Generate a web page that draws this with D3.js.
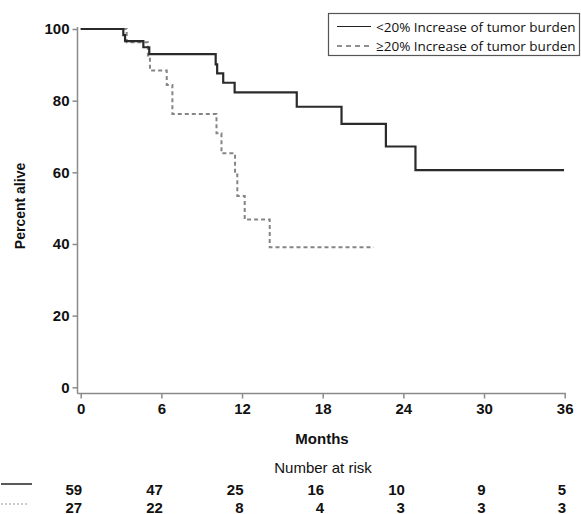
<!DOCTYPE html>
<html>
<head>
<meta charset="utf-8">
<script src="https://cdn.jsdelivr.net/npm/d3@7"></script>
<style>
  body { margin: 0; background: #fff; }
  svg { font-family: "Liberation Sans", Arial, sans-serif; }
</style>
</head>
<body>
<div id="chart"></div>
<script>
// Kaplan-Meier steps
const lowTimes = [0, 3.17, 3.3, 4.66, 5.1, 10.04, 10.15, 10.6, 11.45, 16.07, 19.4, 22.7, 24.9, 35.95];
const lowSurv  = [100, 98.3, 96.6, 94.9, 93.0, 90.1, 87.6, 85.0, 82.3, 78.3, 73.5, 67.2, 60.6, 60.6];
const highTimes = [0, 3.42, 5.0, 5.15, 6.4, 6.82, 10.1, 10.47, 11.48, 11.65, 12.2, 14.06, 21.8];
const highSurv  = [100, 96.3, 92.6, 88.4, 84.4, 76.3, 70.9, 65.3, 59.4, 53.4, 46.8, 39.1, 39.1];

const xTicks = [0, 6, 12, 18, 24, 30, 36];
const yTicks = [0, 20, 40, 60, 80, 100];
const riskLow  = [59, 47, 25, 16, 10, 9, 5];
const riskHigh = [27, 22, 8, 4, 3, 3, 3];
const legendLabels = ["<20% Increase of tumor burden", "\u226520% Increase of tumor burden"];

const W = 581, H = 514;
const svg = d3.select("#chart").append("svg")
    .attr("width", W).attr("height", H);

const x = d3.scaleLinear().domain([0, 36]).range([80.7, 564.7]);
const y = d3.scaleLinear().domain([0, 100]).range([387.3, 29]);

const axisColor = "#8a8a8a";
const axisX0 = 77.5, axisY0 = 393.5;

// Y axis
const yAxis = svg.append("g")
    .attr("transform", `translate(${axisX0},0)`)
    .call(d3.axisLeft(y).tickValues(yTicks).tickSize(5).tickPadding(3));
yAxis.select(".domain").remove();
yAxis.selectAll("line").attr("stroke", axisColor).attr("stroke-width", 1.5);
yAxis.selectAll("text")
    .style("font-family", "Liberation Sans, Arial, sans-serif")
    .style("font-size", "15px").style("font-weight", "bold").attr("fill", "#111");
svg.append("line")
    .attr("x1", axisX0).attr("x2", axisX0).attr("y1", 27).attr("y2", axisY0)
    .attr("stroke", axisColor).attr("stroke-width", 1.5);

// X axis
const xAxis = svg.append("g")
    .attr("transform", `translate(0,${axisY0})`)
    .call(d3.axisBottom(x).tickValues(xTicks).tickSize(5).tickPadding(5));
xAxis.select(".domain").remove();
xAxis.selectAll("line").attr("stroke", axisColor).attr("stroke-width", 1.5);
xAxis.selectAll("text")
    .style("font-family", "Liberation Sans, Arial, sans-serif")
    .style("font-size", "15px").style("font-weight", "bold").attr("fill", "#111");
svg.append("line")
    .attr("x1", axisX0).attr("x2", 566).attr("y1", axisY0).attr("y2", axisY0)
    .attr("stroke", axisColor).attr("stroke-width", 1.5);

// Axis titles
svg.append("text")
    .attr("x", 322).attr("y", 444)
    .attr("text-anchor", "middle")
    .attr("font-size", 15).attr("font-weight", "bold").attr("fill", "#111")
    .text("Months");
svg.append("text")
    .attr("transform", "translate(25,206) rotate(-90)")
    .attr("text-anchor", "middle")
    .attr("font-size", 14).attr("font-weight", "bold").attr("fill", "#111")
    .text("Percent alive");

// Survival curves
const step = d3.line()
    .x(d => x(d[0]))
    .y(d => y(d[1]))
    .curve(d3.curveStepAfter);

svg.append("path")
    .datum(highTimes.map((t, i) => [t, highSurv[i]]))
    .attr("d", step)
    .attr("fill", "none")
    .attr("stroke", "#858585")
    .attr("stroke-width", 2)
    .attr("stroke-dasharray", "4,3");

svg.append("path")
    .datum(lowTimes.map((t, i) => [t, lowSurv[i]]))
    .attr("d", step)
    .attr("fill", "none")
    .attr("stroke", "#2a2a2a")
    .attr("stroke-width", 2.2);

// Legend
const legend = svg.append("g");
legend.append("rect")
    .attr("x", 328.5).attr("y", 13.5).attr("width", 251).attr("height", 42)
    .attr("fill", "#fff").attr("stroke", "#555").attr("stroke-width", 1.2);
legendLabels.forEach((lab, i) => {
    const ly = 26.5 + i * 19.5;
    legend.append("line")
        .attr("x1", 337).attr("x2", 371).attr("y1", ly).attr("y2", ly)
        .attr("stroke", "#222").attr("stroke-width", 1.2)
        .attr("stroke-dasharray", i === 0 ? null : "5,4");
    legend.append("text")
        .attr("x", 376).attr("y", ly + 5)
        .style("font-family", "'Open Sans', sans-serif")
        .style("font-size", "13.5px").attr("fill", "#111")
        .text(lab);
});

// Number at risk table
svg.append("text")
    .attr("x", 323).attr("y", 473)
    .attr("text-anchor", "middle")
    .attr("font-size", 15).attr("fill", "#111")
    .text("Number at risk");

svg.append("line")
    .attr("x1", 1).attr("x2", 32).attr("y1", 484).attr("y2", 484)
    .attr("stroke", "#222").attr("stroke-width", 1.5);
svg.append("line")
    .attr("x1", 1).attr("x2", 28).attr("y1", 504).attr("y2", 504)
    .attr("stroke", "#999").attr("stroke-width", 1.2).attr("stroke-dasharray", "2,2");

[riskLow, riskHigh].forEach((row, r) => {
    svg.append("g").selectAll("text")
        .data(row)
        .join("text")
        .attr("x", (d, i) => x(xTicks[i]) + 1.5)
        .attr("y", 494.5 + r * 18)
        .attr("text-anchor", "end")
        .attr("font-size", 15).attr("font-weight", "bold").attr("fill", "#111")
        .text(d => d);
});
</script>
</body>
</html>
